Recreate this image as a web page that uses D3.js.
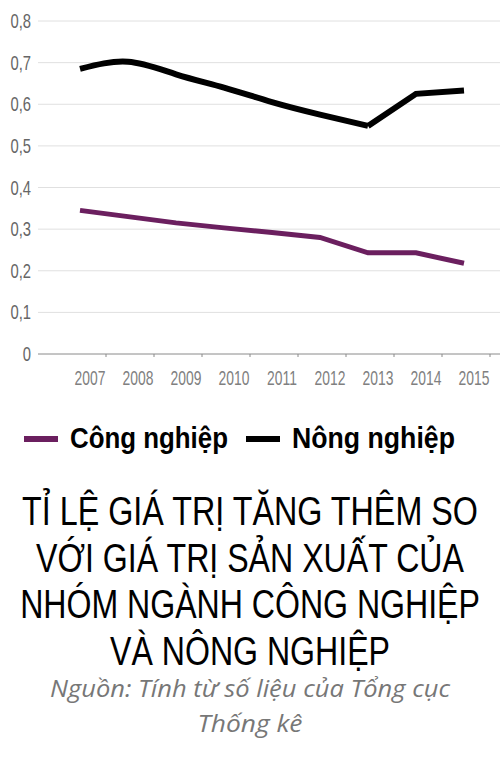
<!DOCTYPE html>
<html>
<head>
<meta charset="utf-8">
<script src="https://cdn.jsdelivr.net/npm/d3@7"></script>
<style>
  body { margin: 0; background: #fff; }
  svg { display: block; }
</style>
</head>
<body>
<svg></svg>
<script>
const years = [2007, 2008, 2009, 2010, 2011, 2012, 2013, 2014, 2015];
const congNghiep = [0.345, 0.33, 0.315, 0.303, 0.292, 0.28, 0.243, 0.243, 0.218];
const nongNghiep = [0.685, 0.702, 0.672, 0.64, 0.605, 0.575, 0.548, 0.625, 0.633];
const yTicks = [0, 0.1, 0.2, 0.3, 0.4, 0.5, 0.6, 0.7, 0.8];
const titleLines = [
  "TỈ LỆ GIÁ TRỊ TĂNG THÊM SO",
  "VỚI GIÁ TRỊ SẢN XUẤT CỦA",
  "NHÓM NGÀNH CÔNG NGHIỆP",
  "VÀ NÔNG NGHIỆP"
];
const titleWidths = [456, 428, 460, 280];
const sourceLines = ["Nguồn: Tính từ số liệu của Tổng cục", "Thống kê"];
const sourceWidths = [400, 105];

const svg = d3.select("svg").attr("width", 500).attr("height", 762);
const sans = "'Liberation Sans', Arial, sans-serif";

const x = d3.scalePoint().domain(years).range([80, 464]);
const y = d3.scaleLinear().domain([0, 0.8]).range([354, 21]);

// squeeze a text horizontally so it spans `w` px (condensed look)
const squeeze = (sel, tx, ty, w, anchor) => {
  sel.each(function () {
    const n = this.getComputedTextLength();
    const k = w / n;
    d3.select(this)
      .attr("text-anchor", anchor)
      .attr("transform", `translate(${tx},${ty}) scale(${k},1)`);
  });
};

// grid
svg.selectAll("line.grid")
  .data(yTicks.filter((d) => d > 0))
  .enter()
  .append("line")
  .attr("x1", 38)
  .attr("x2", 500)
  .attr("y1", (d) => y(d))
  .attr("y2", (d) => y(d))
  .attr("stroke", "#e0e0e0")
  .attr("stroke-width", 1);

// y labels
svg.selectAll("text.ylab")
  .data(yTicks)
  .enter()
  .append("text")
  .attr("transform", (d) => `translate(31,${y(d) + 7}) scale(0.74,1)`)
  .attr("text-anchor", "end")
  .attr("font-family", sans)
  .attr("font-size", 20)
  .attr("fill", "#666")
  .text((d) => (d === 0 ? "0" : d3.format(".1f")(d).replace(".", ",")));

// x axis
svg.append("line")
  .attr("x1", 38).attr("x2", 500)
  .attr("y1", y(0)).attr("y2", y(0))
  .attr("stroke", "#8a8a8a").attr("stroke-width", 1);

svg.selectAll("line.xtick")
  .data(years)
  .enter()
  .append("line")
  .attr("x1", (d) => x(d) + 26)
  .attr("x2", (d) => x(d) + 26)
  .attr("y1", y(0))
  .attr("y2", y(0) + 3)
  .attr("stroke", "#8a8a8a");

svg.selectAll("text.xlab")
  .data(years)
  .enter()
  .append("text")
  .attr("transform", (d) => `translate(${x(d) + 10},385) scale(0.66,1)`)
  .attr("text-anchor", "middle")
  .attr("font-family", sans)
  .attr("font-size", 21)
  .attr("fill", "#808080")
  .text((d) => d);

// lines
const cong = years.map((d, i) => [x(d), y(congNghiep[i])]);
const nong = years.map((d, i) => [x(d), y(nongNghiep[i])]);

svg.append("path")
  .attr("d", d3.line()(cong))
  .attr("fill", "none")
  .attr("stroke", "#6b1f5f")
  .attr("stroke-width", 5);

// smooth up to 2013, straight after
svg.append("path")
  .attr("d", d3.line().curve(d3.curveNatural)(nong.slice(0, 7)))
  .attr("fill", "none")
  .attr("stroke", "#000")
  .attr("stroke-width", 6);

svg.append("path")
  .attr("d", d3.line()(nong.slice(6)))
  .attr("fill", "none")
  .attr("stroke", "#000")
  .attr("stroke-width", 6);

// legend
const legend = [
  { label: "Công nghiệp", color: "#6b1f5f", x: 24, w: 158 },
  { label: "Nông nghiệp", color: "#000", x: 246, w: 163 }
];
legend.forEach((l) => {
  svg.append("rect")
    .attr("x", l.x).attr("y", 436)
    .attr("width", 34).attr("height", 6)
    .attr("fill", l.color);
  svg.append("text")
    .attr("font-family", sans)
    .attr("font-weight", "bold")
    .attr("font-size", 30)
    .attr("fill", "#000")
    .text(l.label)
    .call(squeeze, l.x + 46, 448, l.w, "start");
});

// title
titleLines.forEach((t, i) => {
  svg.append("text")
    .attr("font-family", sans)
    .attr("font-size", 41)
    .attr("fill", "#000")
    .text(t)
    .call(squeeze, 250, 525 + i * 46.7, titleWidths[i], "middle");
});

sourceLines.forEach((t, i) => {
  svg.append("text")
    .attr("font-family", "'Open Sans', sans-serif")
    .attr("font-style", "italic")
    .attr("font-size", 24)
    .attr("fill", "#777")
    .text(t)
    .call(squeeze, 250, 697 + i * 35, sourceWidths[i], "middle");
});
</script>
</body>
</html>
